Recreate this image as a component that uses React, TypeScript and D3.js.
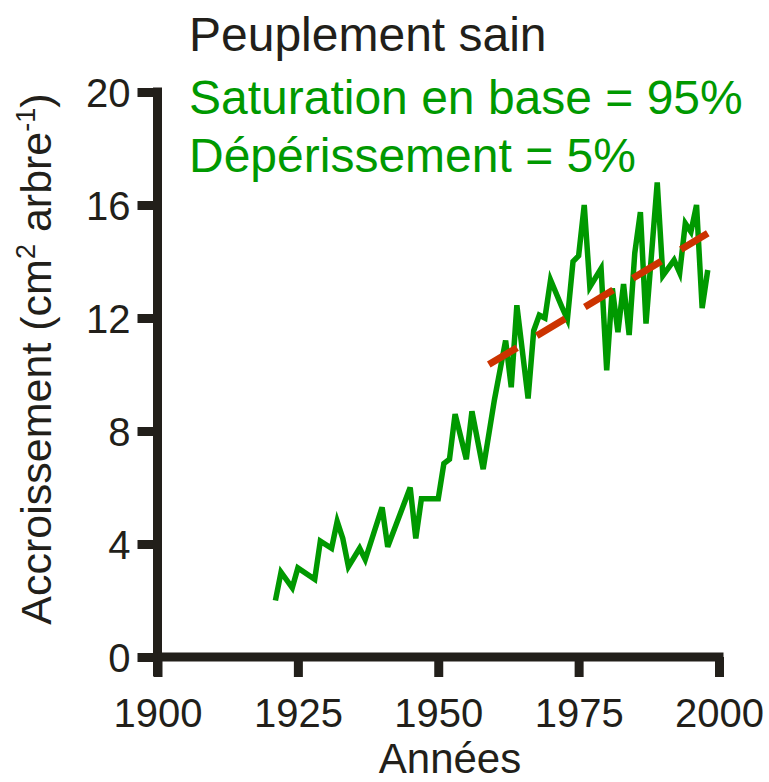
import React, { useEffect, useRef } from "react";
import * as d3 from "d3";

// growth series
const years = [1921, 1922, 1924, 1925, 1928, 1929, 1931, 1932, 1933, 1934, 1936, 1937, 1940, 1941, 1945, 1946, 1947, 1950, 1951, 1952, 1953, 1955, 1956, 1958, 1960, 1962, 1963, 1964, 1966, 1967, 1968, 1969, 1970, 1972, 1973, 1974, 1975, 1976, 1977, 1979, 1980, 1981, 1982, 1983, 1984, 1985, 1986, 1987, 1989, 1990, 1992, 1993, 1994, 1995, 1996, 1997, 1998];
const values = [2.0, 3.0, 2.45, 3.15, 2.75, 4.1, 3.85, 4.8, 4.2, 3.2, 3.85, 3.45, 5.3, 3.9, 6.0, 4.2, 5.6, 5.6, 6.85, 7.0, 8.6, 7.0, 8.7, 6.65, 9.1, 11.2, 9.55, 12.45, 9.15, 11.55, 12.1, 12.0, 13.35, 12.4, 11.95, 14.0, 14.2, 16.0, 13.1, 13.75, 10.15, 13.05, 11.5, 13.2, 11.4, 14.3, 15.75, 11.8, 16.8, 13.5, 14.05, 13.6, 15.35, 15.05, 16.0, 12.35, 13.7];

// trend line (dashed)
const trendYears = [1959, 1998];
const trendValues = [10.35, 15.0];

const xTicks = [1900, 1925, 1950, 1975, 2000];
const yTicks = [0, 4, 8, 12, 16, 20];

const titleLines = ["Peuplement sain", "Saturation en base = 95%", "Dépérissement = 5%"];

const FONT = "'Liberation Sans', Arial, Helvetica, sans-serif";
const INK = "#221f1a";
const GREEN = "#009900";
const RED = "#cc3300";

const App = () => {
    const svgRef = useRef<SVGSVGElement>(null);

    useEffect(() => {
        const svg = d3.select(svgRef.current);
        svg.selectAll("*").remove();

        const x = d3.scaleLinear().domain([1900, 2000]).range([157.5, 719]);
        const y = d3.scaleLinear().domain([0, 20]).range([657, 92]);

        const series = years.map((yr, i) => ({ year: yr, value: values[i] }));
        const trend = trendYears.map((yr, i) => ({ year: yr, value: trendValues[i] }));

        // y axis ticks + labels
        const yAxis = svg.append("g")
            .attr("transform", `translate(${x(1900)},0)`)
            .call(d3.axisLeft(y).tickValues(yTicks).tickSize(20).tickSizeOuter(0).tickPadding(7));
        yAxis.select(".domain").remove();
        yAxis.selectAll(".tick line").attr("stroke", INK).attr("stroke-width", 9);
        yAxis.selectAll(".tick text")
            .attr("fill", INK)
            .attr("font-family", FONT)
            .attr("font-size", 40)
            .attr("dy", "0.36em");

        // x axis ticks + labels
        const xAxis = svg.append("g")
            .attr("transform", `translate(0,${y(0)})`)
            .call(d3.axisBottom(x).tickValues(xTicks).tickFormat(d3.format("d")).tickSize(20).tickSizeOuter(0).tickPadding(0));
        xAxis.select(".domain").remove();
        xAxis.selectAll(".tick line").attr("stroke", INK).attr("stroke-width", 9);
        xAxis.selectAll(".tick text")
            .attr("fill", INK)
            .attr("font-family", FONT)
            .attr("font-size", 40)
            .attr("dy", null)
            .attr("y", 70);

        // axis lines
        svg.append("line")
            .attr("x1", x(1900)).attr("x2", x(1900))
            .attr("y1", y(20) - 4.5).attr("y2", y(0) + 19)
            .attr("stroke", INK).attr("stroke-width", 9);
        svg.append("line")
            .attr("x1", x(1900)).attr("x2", x(2000) + 4.5)
            .attr("y1", y(0)).attr("y2", y(0))
            .attr("stroke", INK).attr("stroke-width", 9);

        // growth line
        svg.append("path")
            .datum(series)
            .attr("fill", "none")
            .attr("stroke", GREEN)
            .attr("stroke-width", 5.5)
            .attr("d", d3.line<{ year: number; value: number }>()
                .x(d => x(d.year))
                .y(d => y(d.value)));

        // dashed trend
        svg.append("path")
            .datum(trend)
            .attr("fill", "none")
            .attr("stroke", RED)
            .attr("stroke-width", 7)
            .attr("stroke-dasharray", "33 23")
            .attr("d", d3.line<{ year: number; value: number }>()
                .x(d => x(d.year))
                .y(d => y(d.value)));

        // titles
        svg.selectAll(".title")
            .data(titleLines)
            .join("text")
            .attr("class", "title")
            .attr("x", 189)
            .attr("y", (d, i) => (i === 0 ? 51 : 56 + i * 58))
            .attr("font-family", FONT)
            .attr("font-size", 48)
            .attr("fill", (d, i) => (i === 0 ? INK : GREEN))
            .text(d => d);

        // x axis title
        svg.append("text")
            .attr("x", 450)
            .attr("y", 773)
            .attr("text-anchor", "middle")
            .attr("font-family", FONT)
            .attr("font-size", 42)
            .attr("fill", INK)
            .text("Années");

        // y axis title with superscripts
        const yTitle = svg.append("text")
            .attr("transform", "translate(51,359) rotate(-90)")
            .attr("text-anchor", "middle")
            .attr("font-family", FONT)
            .attr("font-size", 43)
            .attr("fill", INK);
        yTitle.append("tspan").text("Accroissement (cm");
        yTitle.append("tspan").attr("font-size", 27).attr("dy", -16).text("2");
        yTitle.append("tspan").attr("dy", 16).text(" arbre");
        yTitle.append("tspan").attr("font-size", 27).attr("dy", -16).text("-1");
        yTitle.append("tspan").attr("dy", 16).text(")");
    }, []);

    return (
        <div style={{ position: "absolute", left: 0, top: 0 }}>
            <svg ref={svgRef} width={769} height={782} style={{ display: "block", background: "#fff" }} />
        </div>
    );
};

export default App;
